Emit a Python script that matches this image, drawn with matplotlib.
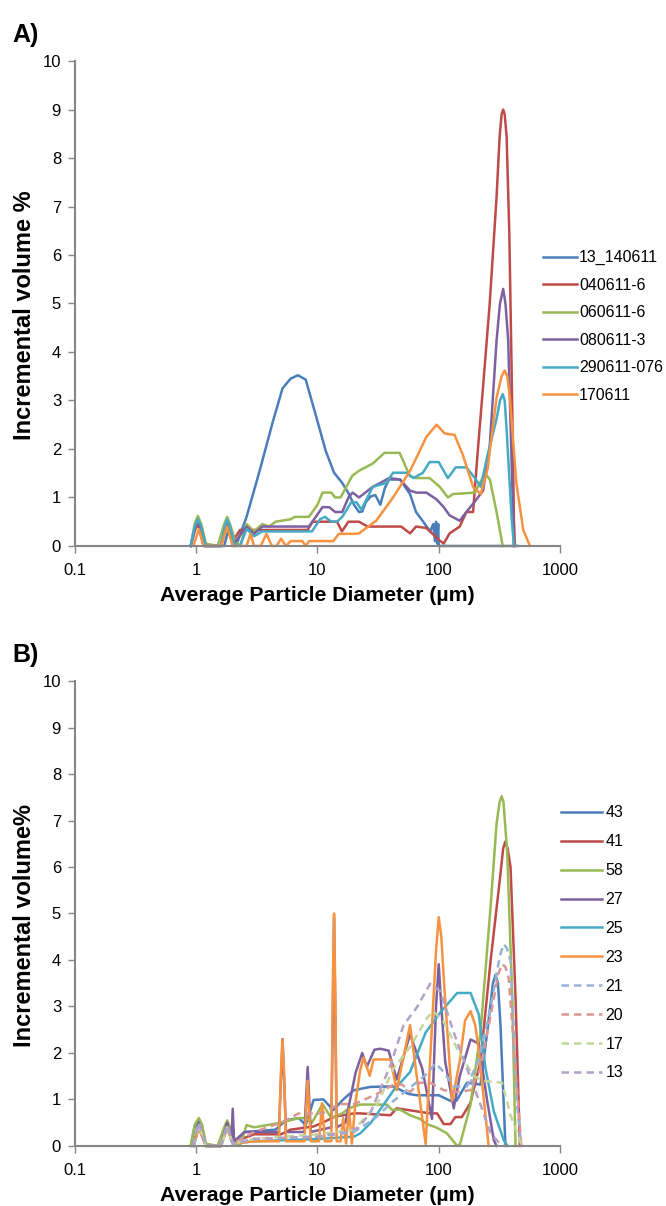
import numpy as np
import matplotlib
matplotlib.use("Agg")
from matplotlib import pyplot as plt

plt.rcParams['font.family'] = ['Liberation Sans', 'DejaVu Sans']

# ---- panel A data (diameter in um, incremental volume %) ----
a_names = ['13_140611', '040611-6', '060611-6', '080611-3', '290611-076', '170611']

d_a1 = [0.9, 1.0, 1.05, 1.15, 1.7, 1.85, 2.0, 2.13, 2.6, 3.3, 4.27, 5.15, 6.0, 6.9, 8.0, 9.7, 11.7, 13.7, 16, 18.2, 20, 22, 23.4,
        25, 27.4, 30, 33, 36, 39, 48, 58, 65, 72, 79, 85, 90, 93, 95, 97, 99, 100, 102, 110, 450]
v_a1 = [0, 0.5, 0.4, 0, 0, 0.35, 0, 0, 0.6, 1.51, 2.55, 3.25, 3.45, 3.52, 3.43, 2.69, 1.96, 1.51, 1.3, 1.07, 0.85, 0.7, 0.71,
        0.9, 1.02, 1.05, 0.85, 1.2, 1.37, 1.37, 1.07, 0.7, 0.55, 0.41, 0.3, 0.45, 0.1, 0.5, 0.05, 0.45, 0, 0, 0, 0]

d_a2 = [0.9, 0.97, 1.02, 1.08, 1.15, 1.6, 1.72, 1.8, 1.9, 2.0, 2.3, 2.6, 8.3, 9.1, 11, 14.5, 15.9, 18, 22, 26, 49, 58, 65, 79,
        102, 110, 123, 149, 169, 192, 211, 232, 263, 300, 318, 330, 340, 350, 363, 382, 400, 417, 425]
v_a2 = [0, 0.3, 0.47, 0.3, 0, 0, 0.3, 0.4, 0.3, 0.1, 0.33, 0.33, 0.33, 0.5, 0.5, 0.5, 0.3, 0.5, 0.5, 0.4, 0.4, 0.26, 0.4, 0.37,
        0.11, 0.05, 0.26, 0.4, 0.7, 0.7, 2.03, 3.28, 4.98, 7.2, 8.45, 8.9, 9.0, 8.9, 8.45, 6.46, 3.5, 0.55, 0]

d_a3 = [0.9, 0.97, 1.03, 1.1, 1.2, 1.5, 1.7, 1.8, 1.9, 2.1, 2.3, 2.6, 3.0, 3.5, 4.0, 4.5, 6.0, 6.5, 8.5, 10, 11, 13, 14, 15.5,
        19.4, 22, 24, 28.6, 35.7, 47.6, 57.8, 65, 84, 102, 119, 131, 199, 241, 264, 300, 337]
v_a3 = [0, 0.45, 0.62, 0.45, 0.05, 0, 0.45, 0.6, 0.45, 0.1, 0, 0.45, 0.3, 0.45, 0.4, 0.5, 0.55, 0.6, 0.6, 0.85, 1.1, 1.1, 1.0, 1.0,
        1.45, 1.55, 1.6, 1.7, 1.92, 1.92, 1.44, 1.4, 1.4, 1.22, 1.0, 1.07, 1.1, 1.5, 1.37, 0.7, 0]

d_a4 = [0.9, 0.97, 1.03, 1.1, 1.2, 1.6, 1.72, 1.8, 1.9, 2.05, 2.6, 3.0, 3.5, 4.5, 8.5, 10, 11, 12.5, 14, 16, 18, 19.5, 22, 28.6,
        33, 39, 48, 58, 66, 79, 96, 110, 123, 149, 169, 199, 232, 263, 300, 320, 340, 355, 374, 400, 417]
v_a4 = [0, 0.35, 0.5, 0.35, 0, 0, 0.35, 0.5, 0.35, 0.05, 0.4, 0.25, 0.4, 0.4, 0.4, 0.65, 0.8, 0.8, 0.7, 0.7, 1.0, 1.1, 1.0, 1.22,
        1.3, 1.4, 1.37, 1.14, 1.1, 1.1, 0.96, 0.8, 0.63, 0.52, 0.7, 0.92, 1.14, 2.03, 4.24, 5.0, 5.3, 5.0, 4.24, 1.66, 0]

d_a5 = [0.9, 0.97, 1.03, 1.1, 1.2, 1.6, 1.72, 1.8, 1.9, 2.05, 2.3, 2.6, 3.0, 3.5, 9.0, 10.5, 11.5, 13, 14.5, 16, 19, 21, 23, 28.6,
        37, 42, 54, 62, 74, 84, 100, 119, 138, 169, 199, 222, 253, 300, 320, 337, 350, 363, 400, 417]
v_a5 = [0, 0.4, 0.55, 0.4, 0, 0, 0.4, 0.55, 0.4, 0.05, 0, 0.35, 0.2, 0.3, 0.3, 0.55, 0.6, 0.5, 0.5, 0.6, 0.9, 0.9, 0.75, 1.22,
        1.3, 1.51, 1.51, 1.4, 1.51, 1.73, 1.73, 1.4, 1.62, 1.62, 1.4, 1.22, 1.88, 2.62, 3.0, 3.13, 3.0, 2.4, 0.55, 0]

d_a6 = [0.95, 1.05, 1.15, 1.6, 1.8, 2.0, 2.6, 2.8, 3.0, 3.4, 3.8, 4.2, 4.6, 5.0, 5.5, 6.0, 7.5, 8.0, 8.5, 13.5, 15, 20, 22,
        30.5, 42, 58, 69.7, 79, 96, 112, 135, 158, 192, 222, 253, 300, 330, 350, 368, 386, 437, 498, 565]
v_a6 = [0, 0.35, 0, 0, 0.4, 0, 0, 0.25, 0, 0, 0.25, 0, 0, 0.15, 0, 0.1, 0.1, 0, 0.1, 0.1, 0.25, 0.25, 0.26,
        0.52, 1.0, 1.55, 1.96, 2.25, 2.5, 2.32, 2.29, 1.88, 1.22, 1.07, 1.59, 3.06, 3.5, 3.62, 3.5, 3.06, 1.29, 0.33, 0]

# ---- panel B data ----
b_names = ['43', '41', '58', '27', '25', '23', '21', '20', '17', '13']

d_b1 = [0.9, 0.97, 1.05, 1.12, 1.2, 1.6, 1.72, 1.8, 1.9, 2.0, 2.5, 4.5, 5.5, 7.0, 8.0, 9.3, 11.2, 13.5, 16.3, 20, 27.4, 42.5,
        56, 66, 100, 125, 140, 171, 221, 251, 280, 294, 308, 323, 355]
v_b1 = [0, 0.4, 0.55, 0.4, 0, 0, 0.35, 0.5, 0.35, 0.05, 0.3, 0.35, 0.55, 0.6, 0.45, 0.99, 1.0, 0.77, 1.0, 1.2, 1.27, 1.28,
        1.12, 1.09, 1.09, 0.97, 0.97, 1.36, 1.32, 2.44, 3.5, 3.68, 3.5, 2.6, 0]

d_b2 = [0.95, 1.05, 1.2, 1.6, 1.8, 2.1, 3.0, 5.0, 6.0, 9.3, 11, 13.9, 20, 22.5, 40, 45, 85, 97, 110, 125, 137, 155, 183,
        221, 268, 323, 340, 355, 370, 391, 430, 467]
v_b2 = [0, 0.4, 0, 0, 0.45, 0.1, 0.25, 0.25, 0.35, 0.42, 0.5, 0.63, 0.7, 0.7, 0.66, 0.81, 0.7, 0.7, 0.47, 0.47, 0.62, 0.62, 0.93,
        1.82, 3.99, 5.85, 6.4, 6.55, 6.4, 6.0, 3.2, 0]

d_b3 = [0.9, 0.97, 1.05, 1.12, 1.2, 1.5, 1.7, 1.8, 1.9, 2.1, 2.3, 2.6, 3.0, 5.0, 7.0, 8.0, 9.0, 11, 13, 16, 18, 20, 22.5, 37.5,
        41, 48, 58, 70, 80, 97, 117, 142, 150, 183, 221, 268, 300, 318, 330, 342, 367, 404, 430]
v_b3 = [0, 0.45, 0.6, 0.45, 0.05, 0, 0.4, 0.55, 0.4, 0.1, 0, 0.45, 0.4, 0.5, 0.6, 0.6, 0.5, 0.9, 0.6, 0.7, 0.8, 0.85, 0.89, 0.89,
        0.78, 0.78, 0.66, 0.58, 0.47, 0.39, 0.27, 0, 0.04, 0.89, 2.44, 5.16, 6.94, 7.4, 7.52, 7.4, 6.32, 3.2, 0]

d_b4 = [0.95, 1.05, 1.2, 1.6, 1.8, 1.95, 2.0, 2.05, 2.5, 4.8, 5.15, 5.5, 7.8, 8.3, 8.8, 13, 13.7, 14.4, 17, 20.6, 23.4,
        25.5, 29.5, 33, 38.6, 45, 58, 73, 88, 95, 100, 105, 113, 133, 149, 183, 214, 251, 285, 300]
v_b4 = [0, 0.5, 0, 0, 0.5, 0.1, 0.8, 0.1, 0.3, 0.3, 2.3, 0.3, 0.3, 1.7, 0.3, 0.4, 4.9, 0.4, 0.5, 1.57, 2.0,
        1.7, 2.07, 2.09, 2.05, 1.43, 2.4, 1.67, 0.58, 3.0, 3.91, 3.0, 1.82, 0.81, 1.5, 2.29, 2.2, 0.97, 0.12, 0]

d_b5 = [0.95, 1.05, 1.2, 1.6, 1.8, 2.0, 3.0, 10, 20, 22.5, 27.6, 42.5, 58, 78, 103, 142, 183, 214, 243, 285, 344, 370]
v_b5 = [0, 0.45, 0, 0, 0.4, 0.05, 0.1, 0.15, 0.2, 0.27, 0.5, 1.2, 1.59, 2.44, 2.87, 3.29, 3.29, 2.83, 1.67, 0.74, 0.12, 0]

d_b6 = [0.95, 1.05, 1.2, 1.6, 1.8, 2.0, 3.0, 4.8, 5.0, 5.15, 5.3, 5.5, 7.8, 8.15, 8.3, 8.45, 8.8, 10.3, 10.9, 11.5, 13,
        13.4, 13.7, 14.0, 14.4, 15.5, 16.3, 17.2, 18.2, 19.2, 20.5, 22.5, 24, 27, 29, 40, 45, 58, 78, 95, 100, 105, 110,
        129, 149, 165, 183, 200, 214, 258]
v_b6 = [0, 0.4, 0, 0, 0.4, 0.05, 0.1, 0.1, 1.6, 2.29, 1.6, 0.1, 0.1, 1.0, 1.4, 1.0, 0.1, 0.1, 0.92, 0.1, 0.1,
        3.5, 5.0, 3.5, 0.1, 0.1, 0.6, 0.05, 0.8, 0.05, 0.9, 1.63, 1.9, 1.51, 1.86, 1.86, 1.2, 2.6, 0.04, 4.2, 4.92, 4.5, 3.6,
        0.97, 1.82, 2.7, 2.9, 2.6, 2.05, 0]

d_b7 = [0.95, 1.05, 1.2, 1.6, 1.8, 2.0, 3.0, 10, 20, 30, 42.5, 80, 94, 110, 133, 171, 214, 268, 320, 344, 365, 391, 443, 479]
v_b7 = [0, 0.5, 0, 0, 0.45, 0.05, 0.15, 0.2, 0.3, 0.6, 0.97, 1.55, 1.78, 1.59, 1.28, 1.28, 1.86, 2.98, 4.1, 4.34, 4.25, 3.99,
        0.89, 0]

d_b8 = [0.95, 1.05, 1.2, 1.6, 1.8, 2.0, 3.0, 5.0, 7.0, 8.0, 11, 15, 20, 30, 42.5, 50, 58, 70, 85, 110, 142, 183,
        221, 276, 310, 333, 355, 378, 430, 480]
v_b8 = [0, 0.45, 0, 0, 0.4, 0.05, 0.3, 0.5, 0.7, 0.7, 0.7, 0.9, 0.9, 1.1, 1.32, 1.32, 1.16, 1.36, 1.36, 1.2, 1.16, 1.2,
        1.67, 2.98, 3.7, 3.91, 3.85, 3.6, 1.67, 0]

d_b9 = [0.95, 1.05, 1.2, 1.6, 1.8, 2.0, 3.0, 10, 20, 31, 42.5, 58, 80, 90, 110, 149, 194, 235, 333, 391, 467, 490]
v_b9 = [0, 0.45, 0, 0, 0.4, 0.05, 0.15, 0.25, 0.35, 0.89, 1.67, 2.13, 2.75, 2.9, 2.67, 1.98, 1.51, 1.4, 1.36, 0.66, 0.12, 0]

d_b10 = [0.95, 1.05, 1.2, 1.6, 1.8, 2.0, 3.0, 10, 17, 22, 27.6, 40, 51.3, 66, 85, 103, 133, 171, 221, 268, 323, 350]
v_b10 = [0, 0.5, 0, 0, 0.45, 0.05, 0.15, 0.2, 0.3, 0.4, 0.74, 1.74, 2.6, 2.98, 3.49, 3.33, 2.44, 1.67, 0.89, 0.27, 0.04, 0]

colors = ['#4A7EBB', '#BE4B48', '#98B954', '#7D60A0', '#46AAC5', '#F69240']
dash_colors = ['#95B3D7', '#D99694', '#C3D69B', '#B3A2C7']

a_series = [(d_a1, v_a1), (d_a2, v_a2), (d_a3, v_a3), (d_a4, v_a4), (d_a5, v_a5), (d_a6, v_a6)]
b_series = [(d_b1, v_b1), (d_b2, v_b2), (d_b3, v_b3), (d_b4, v_b4), (d_b5, v_b5), (d_b6, v_b6),
            (d_b7, v_b7), (d_b8, v_b8), (d_b9, v_b9), (d_b10, v_b10)]

fig = plt.figure(figsize=(6.66, 12.06), dpi=100)
ax_a = fig.add_axes([0.1126, 0.5473, 0.7282, 0.4021])
ax_b = fig.add_axes([0.1126, 0.0498, 0.7282, 0.3855])


def style_axis(ax, ylabel, xlab_y):
    ax.set_xscale('log')
    ax.set_xlim(0.1, 1000)
    ax.set_ylim(0, 10)
    ax.set_yticks(range(0, 11))
    ax.set_xticks([0.1, 1, 10, 100, 1000])
    ax.set_xticklabels(['0.1', '1', '10', '100', '1000'])
    ax.minorticks_off()
    for s in ['top', 'right']:
        ax.spines[s].set_visible(False)
    for s in ['left', 'bottom']:
        ax.spines[s].set_color('#868686')
        ax.spines[s].set_linewidth(1.5)
    ax.tick_params(axis='both', colors='#868686', labelcolor='black', labelsize=12, length=5, width=1)
    ax.tick_params(axis='x', pad=7)
    ax.tick_params(axis='y', pad=5)
    ax.set_xlabel('Average Particle Diameter (\u00b5m)', fontsize=15.3, fontweight='bold')
    ax.xaxis.set_label_coords(0.5, xlab_y)
    ax.set_ylabel(ylabel, fontsize=17, fontweight='bold')
    ax.yaxis.set_label_coords(-0.08, 0.475)


for i, (d, v) in enumerate(a_series):
    ax_a.plot(d, v, color=colors[i], lw=1.8, label=a_names[i], clip_on=False)
style_axis(ax_a, 'Incremental volume %', -0.083)
ax_a.legend(loc='center left', bbox_to_anchor=(0.965, 0.4526), frameon=False, fontsize=11.5,
            handlelength=2.1, labelspacing=0.78, handletextpad=0.15, borderpad=0, borderaxespad=0)

for i, (d, v) in enumerate(b_series):
    if i < 6:
        ax_b.plot(d, v, color=colors[i], lw=1.8, label=b_names[i], clip_on=False)
    else:
        ax_b.plot(d, v, color=dash_colors[i - 6], lw=1.8, ls=(0, (3, 2)), label=b_names[i], clip_on=False)
style_axis(ax_b, 'Incremental volume%', -0.086)
ax_b.legend(loc='center left', bbox_to_anchor=(1.002, 0.4366), frameon=False, fontsize=11.5,
            handlelength=2.6, labelspacing=0.87, handletextpad=0.2, borderpad=0, borderaxespad=0)

fig.text(0.018, 0.971, 'A)', fontsize=18, fontweight='bold', va='center')
fig.text(0.018, 0.457, 'B)', fontsize=18, fontweight='bold', va='center')

fig.savefig('out.png', dpi=100)
